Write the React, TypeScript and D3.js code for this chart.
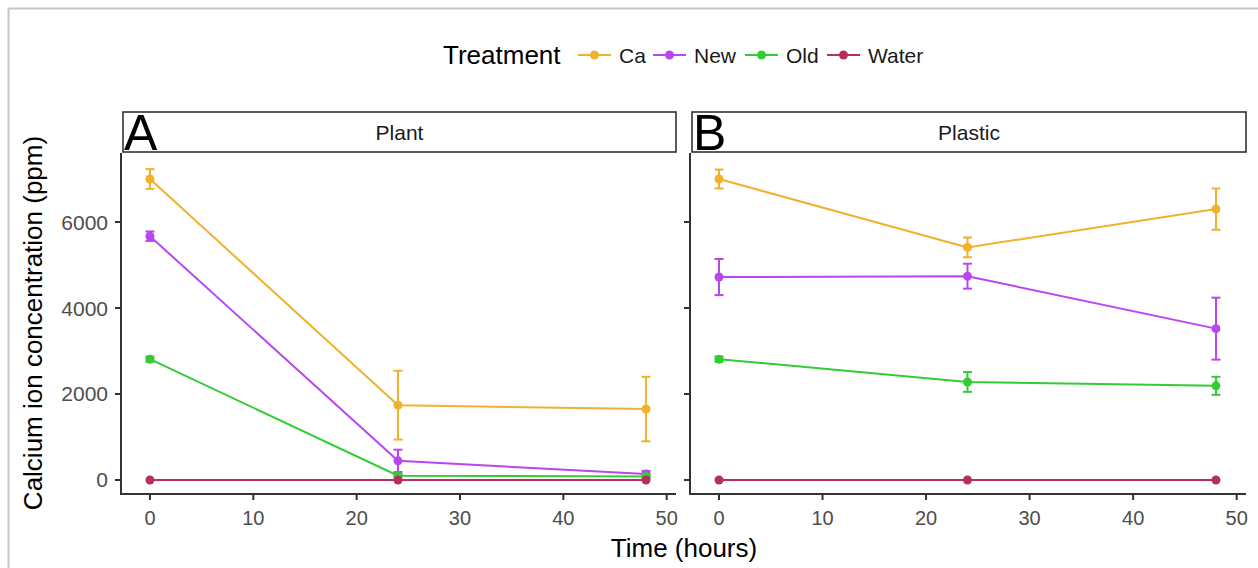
import React from "react";
import * as d3 from "d3";

const treatments = ["Ca", "New", "Old", "Water"];
const colors = ["#F0B22B", "#BA46F2", "#33CC33", "#B5305F"];
const times = [0, 24, 48];
const panels = ["Plant", "Plastic"];
const panelLetters = ["A", "B"];

// Plant panel: mean and error (± half-width)
const plantCa = [7000, 1740, 1650];
const plantCaErr = [230, 800, 750];
const plantNew = [5670, 445, 140];
const plantNewErr = [110, 260, 70];
const plantOld = [2810, 100, 80];
const plantOldErr = [60, 40, 40];
const plantWater = [0, 0, 0];
const plantWaterErr = [0, 0, 0];

// Plastic panel
const plasticCa = [7000, 5410, 6300];
const plasticCaErr = [220, 230, 480];
const plasticNew = [4720, 4740, 3520];
const plasticNewErr = [420, 290, 720];
const plasticOld = [2810, 2280, 2190];
const plasticOldErr = [60, 230, 210];
const plasticWater = [0, 0, 0];
const plasticWaterErr = [0, 0, 0];

const yTicks = [0, 2000, 4000, 6000];
const xTicks = [0, 10, 20, 30, 40, 50];

const panelData = [
  [
    [plantCa, plantCaErr],
    [plantNew, plantNewErr],
    [plantOld, plantOldErr],
    [plantWater, plantWaterErr],
  ],
  [
    [plasticCa, plasticCaErr],
    [plasticNew, plasticNewErr],
    [plasticOld, plasticOldErr],
    [plasticWater, plasticWaterErr],
  ],
];

const FONT = "'Liberation Sans', Arial, Helvetica, sans-serif";

export default function App() {
  const W = 1258;
  const H = 568;
  const top = 153;
  const bottom = 494;
  const panelX = [
    [121, 676],
    [690, 1246],
  ];
  const y = d3.scaleLinear().domain([-326, 7605]).range([bottom, top]);
  const axisColor = "#333333";
  const tickColor = "#4D4D4D";

  return (
    <svg
      width={W}
      height={H}
      style={{ position: "absolute", left: 0, top: 0, display: "block", background: "#fff" }}
      fontFamily={FONT}
    >
      {/* frame */}
      <line x1={8.5} y1={8.5} x2={W} y2={8.5} stroke="#c6c6c6" strokeWidth={2} />
      <line x1={8.5} y1={8.5} x2={8.5} y2={H} stroke="#c6c6c6" strokeWidth={2} />

      {/* legend */}
      <text x={443} y={64} fontSize={26} fill="#000">Treatment</text>
      {treatments.map((t, i) => {
        const kx = [578, 653, 745, 827][i];
        const tx = [619, 694, 786, 868][i];
        return (
          <g key={t}>
            <line x1={kx} x2={kx + 33} y1={55} y2={55} stroke={colors[i]} strokeWidth={2} />
            <circle cx={kx + 16.5} cy={55} r={4.5} fill={colors[i]} />
            <text x={tx} y={62.5} fontSize={21} fill="#1a1a1a">{t}</text>
          </g>
        );
      })}

      {panels.map((p, pi) => {
        const [x0, x1] = panelX[pi];
        const x = d3.scaleLinear().domain([-2.8, 50.9]).range([x0, x1]);
        const line = d3
          .line<number>()
          .x((_, i) => x(times[i]))
          .y((v) => y(v));
        return (
          <g key={p}>
            {/* strip */}
            <rect x={x0 + 2} y={112} width={x1 - x0 - 2} height={40} fill="#fff" stroke={axisColor} strokeWidth={1.6} />
            <text x={(x0 + x1) / 2 + 1} y={139.5} fontSize={21} fill="#1a1a1a" textAnchor="middle">{p}</text>
            <text x={x0 + 3} y={150} fontSize={50} fill="#000">{panelLetters[pi]}</text>

            {/* series */}
            {panelData[pi].map(([vals, errs], si) => (
              <g key={si}>
                <path d={line(vals) || ""} fill="none" stroke={colors[si]} strokeWidth={2} />
                {vals.map((v, k) => {
                  const cx = x(times[k]);
                  const e = errs[k];
                  return (
                    <g key={k}>
                      {e > 0 && (
                        <g stroke={colors[si]} strokeWidth={2}>
                          <line x1={cx} x2={cx} y1={y(v - e)} y2={y(v + e)} />
                          <line x1={cx - 4.5} x2={cx + 4.5} y1={y(v - e)} y2={y(v - e)} />
                          <line x1={cx - 4.5} x2={cx + 4.5} y1={y(v + e)} y2={y(v + e)} />
                        </g>
                      )}
                      <circle cx={cx} cy={y(v)} r={4.5} fill={colors[si]} />
                    </g>
                  );
                })}
              </g>
            ))}

            {/* axes */}
            <line x1={x0} x2={x0} y1={top} y2={bottom + 1} stroke={axisColor} strokeWidth={2} />
            <line x1={x0 - 1} x2={x1} y1={bottom} y2={bottom} stroke={axisColor} strokeWidth={2} />
            {xTicks.map((t) => (
              <g key={t}>
                <line x1={x(t)} x2={x(t)} y1={bottom} y2={bottom + 6} stroke={axisColor} strokeWidth={2} />
                <text x={x(t)} y={525} fontSize={20} fill={tickColor} textAnchor="middle">{t}</text>
              </g>
            ))}
            {yTicks.map((t) => (
              <g key={t}>
                <line x1={x0 - 6} x2={x0} y1={y(t)} y2={y(t)} stroke={axisColor} strokeWidth={2} />
                {pi === 0 && (
                  <text x={x0 - 13} y={y(t) + 7.5} fontSize={21} fill={tickColor} textAnchor="end">{t}</text>
                )}
              </g>
            ))}
          </g>
        );
      })}

      {/* axis titles */}
      <text x={684} y={557} fontSize={26} fill="#000" textAnchor="middle">Time (hours)</text>
      <text
        transform={`translate(42, 323) rotate(-90)`}
        fontSize={26}
        fill="#000"
        textAnchor="middle"
      >
        Calcium ion concentration (ppm)
      </text>
    </svg>
  );
}
